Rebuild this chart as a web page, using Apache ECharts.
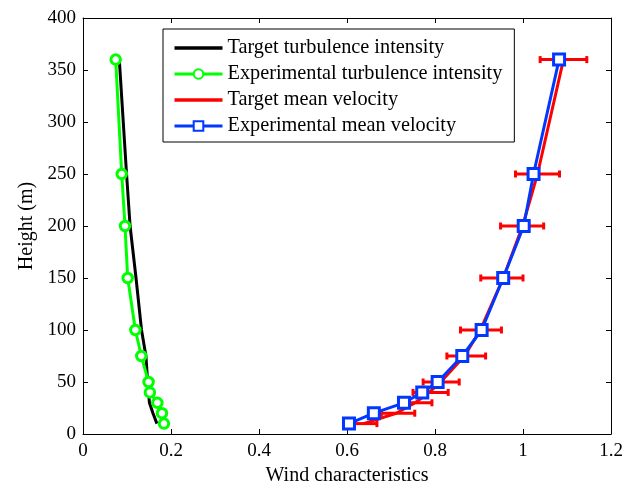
<!DOCTYPE html>
<html><head><meta charset="utf-8">
<script src="https://cdn.jsdelivr.net/npm/echarts@6/dist/echarts.min.js"></script>
<style>html,body{margin:0;padding:0;background:#fff}#c{width:637px;height:485px}</style>
</head><body><div id="c"></div>
<script>
// Heights (m)
const heights = [10, 20, 30, 40, 50, 75, 100, 150, 200, 250, 360];
// Turbulence intensity
const targetTurb = [0.168, 0.159, 0.151, 0.149, 0.147, 0.143, 0.133, 0.1205, 0.107, 0.099, 0.0825];
const expTurb    = [0.184, 0.1795, 0.169, 0.152, 0.149, 0.1325, 0.119, 0.1016, 0.0955, 0.088, 0.0743];
// Mean velocity
const targetVel  = [0.638, 0.712, 0.755, 0.787, 0.813, 0.867, 0.903, 0.955, 0.999, 1.033, 1.092];
const expVel     = [0.6045, 0.661, 0.7295, 0.771, 0.806, 0.862, 0.906, 0.955, 1.0016, 1.024, 1.082];
// Error bar extents of target mean velocity
const velErrLow  = [0.606, 0.678, 0.720, 0.750, 0.773, 0.827, 0.858, 0.904, 0.949, 0.983, 1.039];
const velErrHigh = [0.668, 0.754, 0.793, 0.830, 0.855, 0.915, 0.951, 1.000, 1.047, 1.083, 1.145];
// Axis ticks
const xTicks = {min: 0, max: 1.2, interval: 0.2};
const yTicks = {min: 0, max: 400, interval: 50};
const names = ['Target turbulence intensity', 'Experimental turbulence intensity', 'Target mean velocity', 'Experimental mean velocity'];

const FONT = "'Liberation Serif', 'Times New Roman', serif";
const pair = (xs) => xs.map((v, i) => [v, heights[i]]);
const errData = heights.map((h, i) => [velErrLow[i], velErrHigh[i], h]);

const chart = echarts.init(document.getElementById('c'), null, {renderer: 'canvas'});
const axisCommon = {
  axisLine: {show: true, onZero: false, lineStyle: {color: '#000', width: 1}},
  axisTick: {show: true, inside: true, length: 5, lineStyle: {color: '#000', width: 1}},
  splitLine: {show: false},
};
chart.setOption({
  animation: false,
  backgroundColor: '#fff',
  grid: {left: 83, right: 26, top: 18, bottom: 51, outerBoundsMode: 'none', containLabel: false},
  xAxis: [
    Object.assign({type: 'value', position: 'bottom', min: xTicks.min, max: xTicks.max, interval: xTicks.interval,
      name: 'Wind characteristics', nameLocation: 'middle', nameGap: 23,
      nameTextStyle: {fontFamily: FONT, fontSize: 20, color: '#000'},
      axisLabel: {fontFamily: FONT, fontSize: 19, color: '#000', margin: 8}}, axisCommon),
    Object.assign({type: 'value', position: 'top', min: xTicks.min, max: xTicks.max, interval: xTicks.interval,
      axisLabel: {show: false}}, axisCommon)
  ],
  yAxis: [
    Object.assign({type: 'value', position: 'left', min: yTicks.min, max: yTicks.max, interval: yTicks.interval,
      name: 'Height (m)', nameLocation: 'middle', nameGap: 45, nameRotate: 90,
      nameTextStyle: {fontFamily: FONT, fontSize: 20, color: '#000'},
      axisLabel: {fontFamily: FONT, fontSize: 19, color: '#000', margin: 7}}, axisCommon),
    Object.assign({type: 'value', position: 'right', min: yTicks.min, max: yTicks.max, interval: yTicks.interval,
      axisLabel: {show: false}}, axisCommon)
  ],
  legend: {
    orient: 'vertical', left: 163, top: 29,
    padding: [9, 12, 6, 10], itemGap: 6, itemWidth: 48, itemHeight: 12,
    backgroundColor: '#fff', borderColor: '#000', borderWidth: 1, borderRadius: 0,
    textStyle: {fontFamily: FONT, fontSize: 20.3, color: '#000'},
    lineStyle: {width: 3},
    selectedMode: false,
    data: [
      {name: names[0], icon: 'path://M0,0H48V3.5H0Z'},
      {name: names[1]},
      {name: names[2], icon: 'path://M0,0H48V3.5H0Z'},
      {name: names[3]}
    ]
  },
  series: [
    {name: names[0], type: 'line', data: pair(targetTurb), symbol: 'none',
      itemStyle: {color: '#000'}, lineStyle: {color: '#000', width: 3}, z: 2},
    {name: names[1], type: 'line', data: pair(expTurb), symbol: 'circle', symbolSize: 9.5,
      itemStyle: {color: '#fff', borderColor: '#00ff00', borderWidth: 3},
      lineStyle: {color: '#00ff00', width: 3}, z: 3},
    {name: names[2], type: 'line', data: pair(targetVel), symbol: 'none',
      itemStyle: {color: '#ff0000'}, lineStyle: {color: '#ff0000', width: 3}, z: 4},
    {type: 'custom', data: errData, encode: {x: [0, 1], y: 2}, z: 4, silent: true,
      renderItem: function (params, api) {
        const y = api.value(2);
        const p1 = api.coord([api.value(0), y]);
        const p2 = api.coord([api.value(1), y]);
        const h = 3.5;
        const st = {stroke: '#ff0000', lineWidth: 3};
        return {type: 'group', children: [
          {type: 'line', shape: {x1: p1[0], y1: p1[1], x2: p2[0], y2: p2[1]}, style: st},
          {type: 'line', shape: {x1: p1[0], y1: p1[1] - h, x2: p1[0], y2: p1[1] + h}, style: st},
          {type: 'line', shape: {x1: p2[0], y1: p2[1] - h, x2: p2[0], y2: p2[1] + h}, style: st}
        ]};
      }},
    {name: names[3], type: 'line', data: pair(expVel), symbol: 'rect', symbolSize: 11,
      itemStyle: {color: '#fff', borderColor: '#0038ff', borderWidth: 3},
      lineStyle: {color: '#0038ff', width: 3}, z: 5}
  ]
});
</script></body></html>
